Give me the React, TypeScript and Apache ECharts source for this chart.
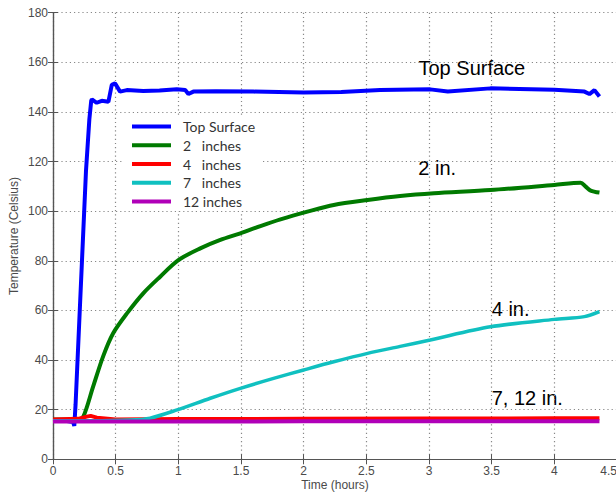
import React, { useEffect, useRef } from "react";
import * as echarts from "echarts";

const seriesNames = ["Top Surface", "2   inches", "4   inches", "7   inches", "12 inches"];
const seriesColors = ["#0000ff", "#007a00", "#ff0000", "#10c0c0", "#b000b8"];

const topTime = [0, 0.1, 0.16, 0.17, 0.18, 0.263, 0.29, 0.305, 0.31, 0.349, 0.389, 0.442, 0.469, 0.495, 0.535, 0.589, 0.72, 0.85, 0.988, 1.055, 1.08, 1.12, 1.3, 1.6, 2.0, 2.3, 2.61, 3.01, 3.15, 3.49, 4.0, 4.24, 4.28, 4.32, 4.36];
const topTemp = [15.5, 15.5, 15, 13.5, 22, 116, 137, 144.5, 145.1, 143.7, 144.5, 144.1, 150.9, 151.5, 148.2, 148.8, 148.4, 148.6, 149.1, 148.8, 147.2, 148.2, 148.3, 148.2, 147.8, 148, 148.8, 149.1, 148.2, 149.5, 148.9, 148.2, 147.2, 148.8, 146.2];

const in2Time = [0, 0.2, 0.242, 0.32, 0.4, 0.48, 0.59, 0.72, 0.855, 1.0, 1.175, 1.335, 1.495, 1.655, 1.815, 2.03, 2.24, 2.51, 2.77, 3.04, 3.49, 4.0, 4.21, 4.25, 4.29, 4.36];
const in2Temp = [16, 16, 17.2, 29.3, 41.5, 50.8, 58.8, 66.9, 73.6, 80.3, 85, 88.4, 91.1, 94, 96.7, 99.8, 102.5, 104.5, 106.1, 107.2, 108.5, 110.6, 111.5, 109.9, 108.3, 107.5];

const in4Time = [0, 0.2, 0.27, 0.3, 0.35, 0.5, 1, 2, 3, 4, 4.36];
const in4Temp = [16, 16.3, 17.2, 17.5, 16.8, 16, 16.2, 16.3, 16.4, 16.5, 16.5];

const in7Time = [0, 0.3, 0.615, 0.775, 0.99, 1.255, 1.495, 1.76, 2.0, 2.24, 2.51, 2.77, 3.01, 3.49, 4.0, 4.24, 4.36];
const in7Temp = [15.5, 15.5, 15.8, 16.6, 19.9, 24.6, 28.6, 32.6, 36, 39.3, 42.7, 45.5, 48.1, 53.4, 56.4, 57.5, 59.5];

const in12Time = [0, 1, 2, 3, 4, 4.36];
const in12Temp = [15.2, 15.2, 15.3, 15.3, 15.3, 15.3];

const xTicks = { min: 0, max: 4.5, interval: 0.5 };
const yTicks = { min: 0, max: 180, interval: 20 };

const annotations = ["Top Surface", "2 in.", "4 in.", "7, 12 in."];

const zip = (xs: number[], ys: number[]) => xs.map((x, i) => [x, ys[i]]);

export default function App() {
  const ref = useRef<HTMLDivElement>(null);
  useEffect(() => {
    if (!ref.current) return;
    const chart = echarts.init(ref.current, undefined, { renderer: "svg" });
    const allData = [
      zip(topTime, topTemp),
      zip(in2Time, in2Temp),
      zip(in4Time, in4Temp),
      zip(in7Time, in7Temp),
      zip(in12Time, in12Temp),
    ];
    const widths = [4, 4, 4, 3.5, 4];
    const smooths = [false, 0.3, false, 0.3, false];
    const axisFont = { fontFamily: "Liberation Sans, Arial, sans-serif", fontSize: 12, color: "#4a4a4a" };
    const frame = { show: true, lineStyle: { color: "#555", width: 1.2 } };
    const grid = { show: true, lineStyle: { color: "#888", width: 1.2, type: [1.2, 3] as any } };
    const annFont = '20px "Liberation Sans", Arial, sans-serif';
    chart.setOption({
      animation: false,
      backgroundColor: "#fff",
      grid: { left: 53, right: -1, top: 12.7, bottom: 33.7, containLabel: false, outerBoundsMode: "none" },
      xAxis: [
        {
          type: "value",
          min: xTicks.min,
          max: xTicks.max,
          interval: xTicks.interval,
          name: "Time (hours)",
          nameLocation: "middle",
          nameGap: 20,
          nameMoveOverlap: false,
          nameTextStyle: { ...axisFont, lineHeight: 12 },
          axisLine: frame,
          axisTick: { show: true, inside: true, length: 5, lineStyle: { color: "#555" } },
          axisLabel: { ...axisFont, margin: 6, alignMaxLabel: "right" },
          splitLine: grid,
        },
        {
          type: "value",
          position: "top",
          min: xTicks.min,
          max: xTicks.max,
          interval: xTicks.interval,
          axisLine: frame,
          axisTick: { show: true, inside: true, length: 5, lineStyle: { color: "#555" } },
          axisLabel: { show: false },
          splitLine: { show: false },
        },
      ],
      yAxis: [
        {
          type: "value",
          min: yTicks.min,
          max: yTicks.max,
          interval: yTicks.interval,
          name: "Temperature (Celsius)",
          nameLocation: "middle",
          nameGap: 33,
          nameMoveOverlap: false,
          nameTextStyle: { ...axisFont, lineHeight: 12 },
          axisLine: frame,
          axisTick: { show: true, inside: true, length: 5, lineStyle: { color: "#555" } },
          axisLabel: { ...axisFont, margin: 5 },
          splitLine: grid,
        },
        {
          type: "value",
          position: "right",
          min: yTicks.min,
          max: yTicks.max,
          interval: yTicks.interval,
          axisLine: frame,
          axisTick: { show: true, inside: true, length: 5, lineStyle: { color: "#555" } },
          axisLabel: { show: false },
          splitLine: { show: false },
        },
      ],
      legend: {
        orient: "vertical",
        left: 124,
        top: 115,
        padding: [4, 7, 2, 8],
        backgroundColor: "#fff",
        itemWidth: 39,
        itemHeight: 4,
        itemGap: 3.75,
        icon: "rect",
        data: seriesNames,
        textStyle: {
          fontFamily: "Lato, sans-serif",
          fontSize: 14,
          color: "#333",
          lineHeight: 15,
          padding: [0, 0, 0, 7],
        },
      },
      series: seriesNames.map((name, i) => ({
        name,
        type: "line",
        data: allData[i],
        showSymbol: false,
        symbol: "none",
        smooth: smooths[i],
        color: seriesColors[i],
        lineStyle: { width: widths[i], color: seriesColors[i] },
        z: 2 + i,
      })),
      graphic: [
        { type: "text", x: 418.5, y: 68, style: { text: annotations[0], font: annFont, fill: "#000", verticalAlign: "middle" } },
        { type: "text", x: 418.3, y: 168, style: { text: annotations[1], font: annFont, fill: "#000", verticalAlign: "middle" } },
        { type: "text", x: 491.7, y: 308.5, style: { text: annotations[2], font: annFont, fill: "#000", verticalAlign: "middle" } },
        { type: "text", x: 491.7, y: 397.5, style: { text: annotations[3], font: annFont, fill: "#000", verticalAlign: "middle" } },
      ],
    });
    return () => chart.dispose();
  }, []);
  return (
    <div
      ref={ref}
      style={{ position: "fixed", left: 0, top: 0, width: 616, height: 493 }}
    />
  );
}
